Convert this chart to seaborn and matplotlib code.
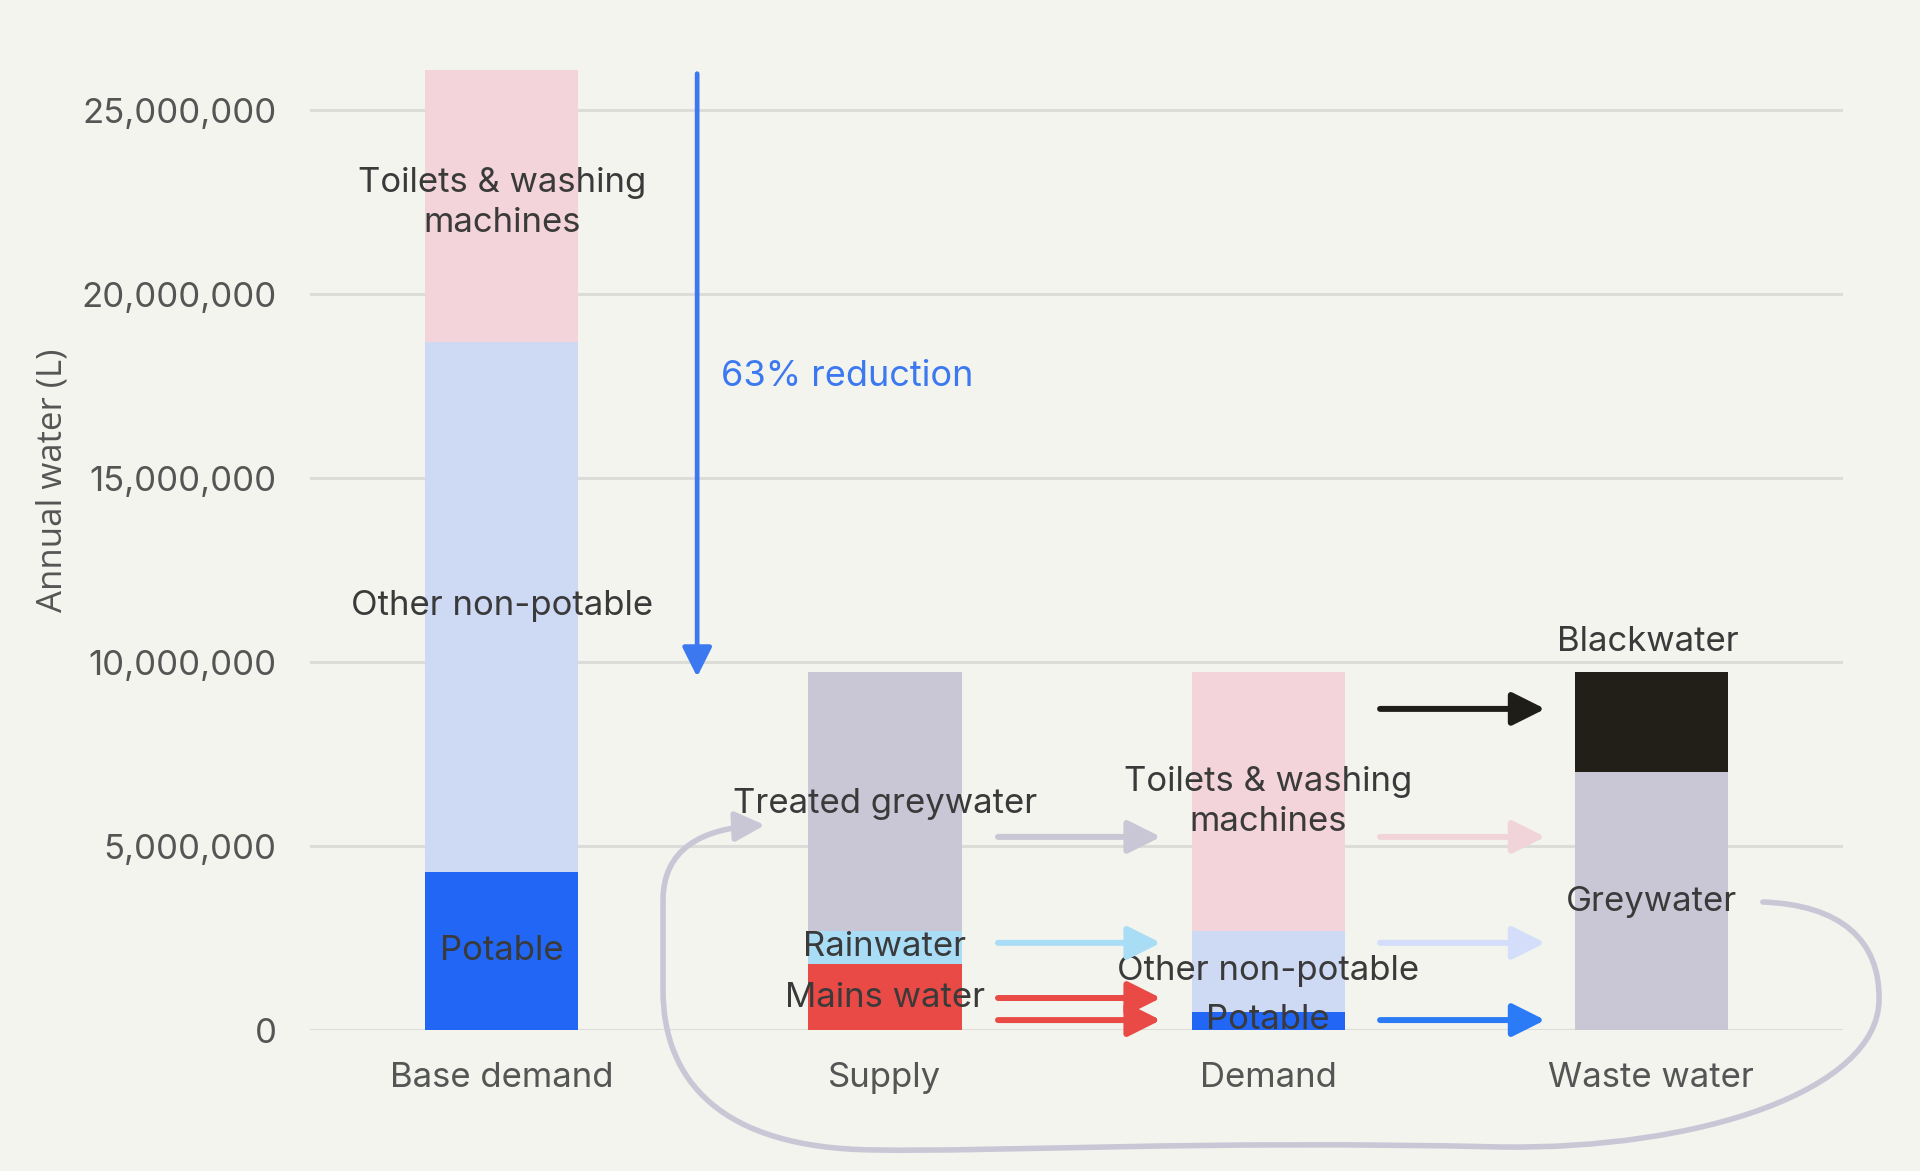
import numpy as np
import pandas as pd
import matplotlib
matplotlib.use("Agg")
import matplotlib.pyplot as plt
from matplotlib.path import Path
from matplotlib.patches import FancyArrowPatch
from matplotlib.ticker import FuncFormatter
import seaborn as sns

# ---- data (litres per year) ----
stages = ["Base demand", "Supply", "Demand", "Waste water"]

base_segments = ["Potable", "Other non-potable", "Toilets & washing machines"]
base_values = [4_300_000, 14_400_000, 7_400_000]

supply_segments = ["Mains water", "Rainwater", "Treated greywater"]
supply_values = [1_800_000, 900_000, 7_020_000]

demand_segments = ["Potable", "Other non-potable", "Toilets & washing machines"]
demand_values = [500_000, 2_200_000, 7_020_000]

waste_segments = ["Greywater", "Blackwater"]
waste_values = [7_020_000, 2_700_000]

reduction_label = "63% reduction"

# ---- styles ----
BG = "#F3F4EE"
TEXT = "#3A3A3A"
TICK = "#555555"
GRID = "#DCDCD8"

palette = {
    "Toilets & washing machines": "#F2D4DA",
    "Other non-potable": "#CED9F4",
    "Potable": "#2166F4",
    "Treated greywater": "#C9C7D6",
    "Rainwater": "#A9DDF6",
    "Mains water": "#E94A45",
    "Blackwater": "#221F18",
    "Greywater": "#C9C7D6",
}

# build long table with cumulative tops (layered bars)
rows = []
for stage, segs, vals in zip(stages,
                             [base_segments, supply_segments, demand_segments, waste_segments],
                             [base_values, supply_values, demand_values, waste_values]):
    cum = np.cumsum(vals)
    for seg, v, top in zip(segs, vals, cum):
        rows.append({"stage": stage, "segment": seg, "value": v, "top": top})
df = pd.DataFrame(rows)

# taller (upper) segments first so the lower ones sit on top
hue_order = ["Toilets & washing machines", "Treated greywater", "Blackwater",
             "Other non-potable", "Rainwater", "Greywater",
             "Potable", "Mains water"]

sns.set_theme(style="white")
plt.rcParams["font.family"] = ["Inter", "DejaVu Sans"]

fig = plt.figure(figsize=(19.2, 11.71), dpi=100, facecolor=BG)
ax = fig.add_axes([0.1615, 0.1204, 0.7984, 0.8324])
ax.set_facecolor(BG)

sns.barplot(data=df, x="stage", y="top", hue="segment", order=stages,
            hue_order=hue_order, palette=palette, dodge=False, width=0.4,
            saturation=1, errorbar=None, legend=False, linewidth=0, ax=ax)

ax.set_xlim(-0.5, 3.5)
ax.set_ylim(0, 26_500_000)
ax.set_yticks(np.arange(0, 25_000_001, 5_000_000))
ax.yaxis.set_major_formatter(FuncFormatter(lambda v, p: f"{int(v):,}"))
ax.grid(axis="y", color=GRID, lw=2.2)
ax.grid(axis="x", visible=False)
ax.set_axisbelow(True)
for s in ax.spines.values():
    s.set_visible(False)
ax.tick_params(axis="both", length=0, labelsize=25, labelcolor=TICK)
ax.tick_params(axis="y", pad=24)
ax.tick_params(axis="x", pad=23)
ax.set_xlabel("")
ax.set_ylabel("Annual water (L)", fontsize=25, color=TICK,
              family=["Open Sans", "DejaVu Sans"])
ax.yaxis.set_label_coords(-0.157, 0.564)

# ---- segment labels ----
lab = dict(ha="center", va="center", fontsize=25, color=TEXT)
ax.text(0, 22_480_000, "Toilets & washing\nmachines", linespacing=1.32, **lab)
ax.text(0, 11_530_000, "Other non-potable", **lab)
ax.text(0, 2_140_000, "Potable", **lab)
ax.text(1, 6_150_000, "Treated greywater", **lab)
ax.text(1, 2_270_000, "Rainwater", **lab)
ax.text(1, 870_000, "Mains water", **lab)
ax.text(2, 6_200_000, "Toilets & washing\nmachines", linespacing=1.32, **lab)
ax.text(2, 1_600_000, "Other non-potable", **lab)
ax.text(2, 270_000, "Potable", **lab)
ax.text(2.99, 10_550_000, "Blackwater", **lab)
ax.text(3, 3_480_000, "Greywater", **lab)

# ---- reduction arrow ----
ax.annotate("", xy=(0.51, 9_600_000), xytext=(0.51, 26_000_000),
            arrowprops=dict(arrowstyle="-|>,head_length=0.9,head_width=0.45",
                            mutation_scale=20, lw=3.4, color="#3C78F0",
                            shrinkA=0, shrinkB=0),
            annotation_clip=False)
ax.text(0.573, 17_780_000, reduction_label, ha="left", va="center",
        fontsize=26, color="#3C78F0")

# ---- flow arrows ----
flows = [
    (1.295, 1.72, 5_250_000, "#C9C7D6"),
    (1.295, 1.72, 2_370_000, "#A9DDF6"),
    (1.295, 1.72, 870_000, "#E94A45"),
    (1.295, 1.72, 270_000, "#E94A45"),
    (2.292, 2.723, 8_730_000, "#1F1D17"),
    (2.292, 2.723, 5_250_000, "#F1D3DA"),
    (2.292, 2.723, 2_370_000, "#D4DEFA"),
    (2.292, 2.723, 270_000, "#2A7BF5"),
]
for x0, x1, yv, c in flows:
    ax.annotate("", xy=(x1, yv), xytext=(x0, yv),
                arrowprops=dict(arrowstyle="-|>,head_length=1.0,head_width=0.5",
                                mutation_scale=20, lw=4.3, color=c,
                                shrinkA=0, shrinkB=0))

# ---- recycling loop (greywater back to supply) ----
verts = [
    (3.291, 3.48e6),
    (3.493, 3.40e6), (3.597, 2.45e6), (3.594, 0.82e6),
    (3.592, -1.63e6), (3.127, -3.26e6), (2.605, -3.18e6),
    (1.822, -2.99e6), (1.301, -3.32e6), (0.969, -3.26e6),
    (0.570, -3.21e6), (0.421, -1.36e6), (0.421, 1.09e6),
    (0.421, 3.53e6),
    (0.421, 4.89e6), (0.518, 5.49e6), (0.687, 5.57e6),
]
codes = ([Path.MOVETO] + [Path.CURVE4] * 12 + [Path.LINETO] + [Path.CURVE4] * 3)
loop = FancyArrowPatch(path=Path(verts, codes),
                       arrowstyle="-|>,head_length=0.9,head_width=0.45",
                       mutation_scale=20, lw=4.0, color="#C9C7D6",
                       clip_on=False)
ax.add_patch(loop)

fig.savefig("out.png", dpi=100, facecolor=BG)
